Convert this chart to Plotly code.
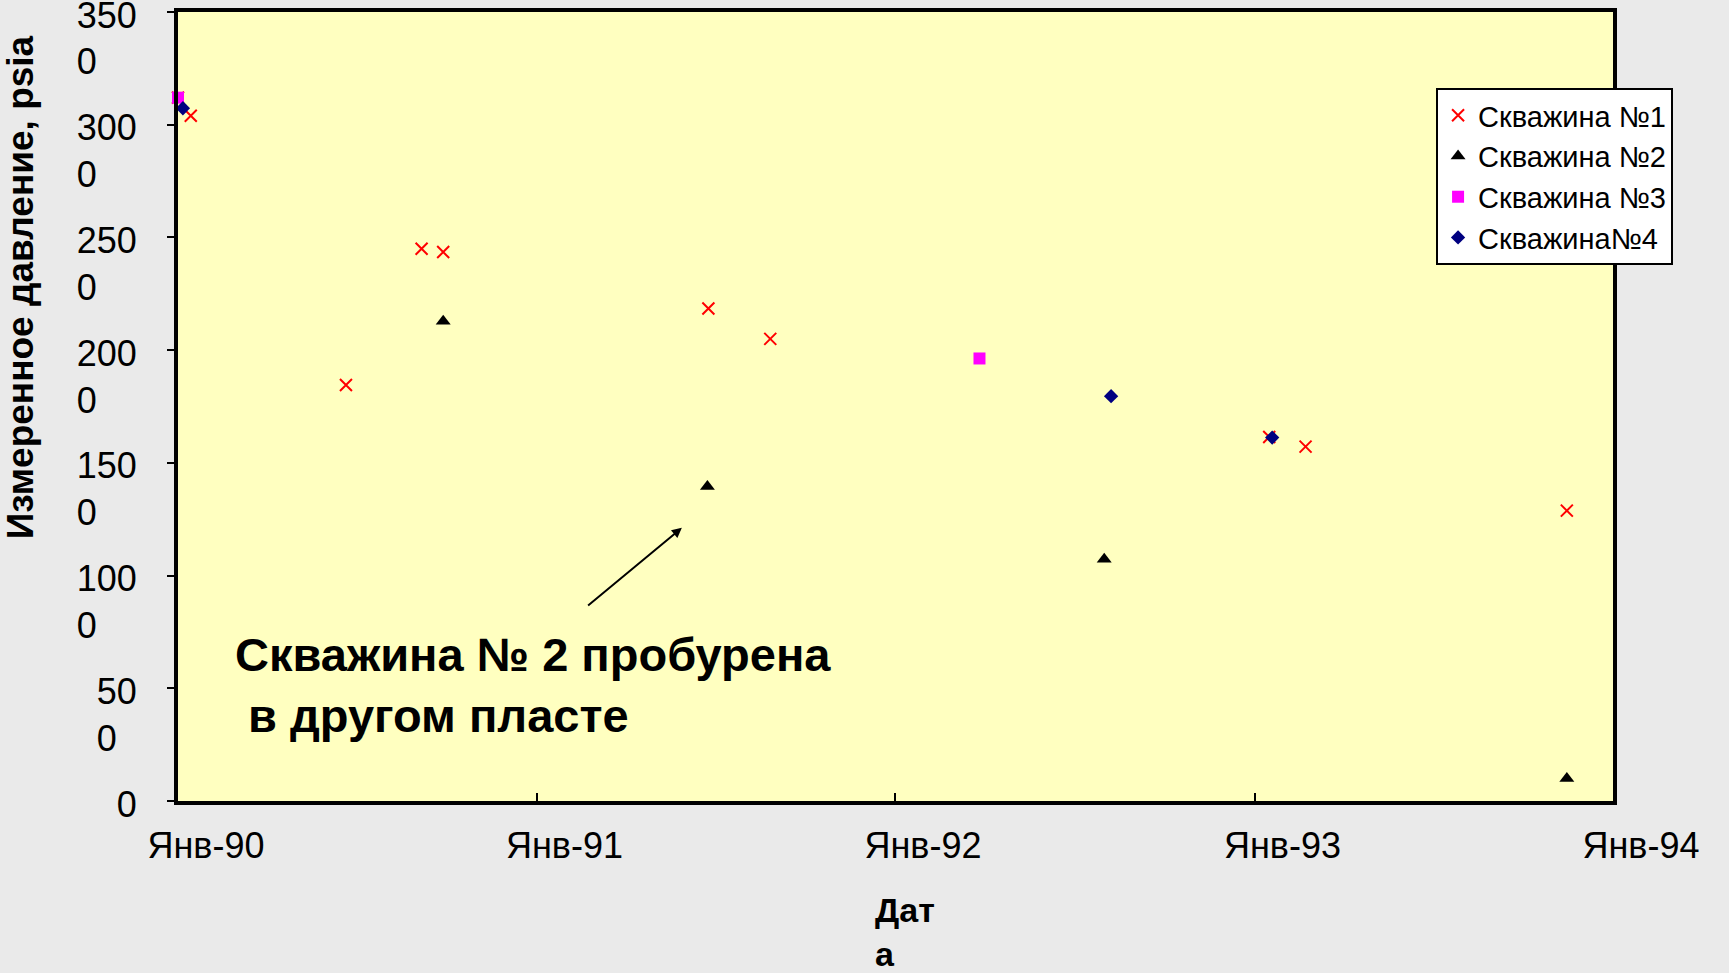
import plotly.graph_objects as go

# ---- data ----
well1_dates = ["1990-01-01", "1990-01-14", "1990-06-21", "1990-09-06", "1990-09-28",
               "1991-06-25", "1991-08-27", "1993-01-16", "1993-02-22", "1993-11-15"]
well1_psia = [3120, 3040, 1845, 2450, 2435, 2185, 2050, 1615, 1572, 1288]

well2_dates = ["1990-09-28", "1991-06-24", "1992-08-01", "1993-11-15"]
well2_psia = [2128, 1395, 1072, 100]

well3_dates = ["1990-01-01", "1992-03-27"]
well3_psia = [3120, 1963]

well4_dates = ["1990-01-06", "1992-08-08", "1993-01-19"]
well4_psia = [3073, 1796, 1612]

x_tickvals = ["1990-01-01", "1991-01-01", "1992-01-01", "1993-01-01", "1994-01-01"]
x_ticktext = ["Янв-90", "Янв-91", "Янв-92", "Янв-93", "Янв-94"]

y_tickvals = [0, 500, 1000, 1500, 2000, 2500, 3000, 3500]
NB = "\u00a0"
y_ticktext = ["0",
              NB + "<br>50<br>0" + NB * 2,
              NB + "<br>100<br>0" + NB * 4,
              NB + "<br>150<br>0" + NB * 4,
              NB + "<br>200<br>0" + NB * 4,
              NB + "<br>250<br>0" + NB * 4,
              NB + "<br>300<br>0" + NB * 4,
              NB + "<br>350<br>0" + NB * 4]

names = ["Скважина №1", "Скважина №2", "Скважина №3", "Скважина№4"]

FONT = "Liberation Sans, Arial, sans-serif"

fig = go.Figure()
fig.add_trace(go.Scatter(x=well1_dates, y=well1_psia, mode="markers", name=names[0],
                         marker=dict(symbol="x-thin", size=12, color="#FF0000",
                                     line=dict(color="#FF0000", width=2)),
                         cliponaxis=False))
fig.add_trace(go.Scatter(x=well2_dates, y=well2_psia, mode="markers", name=names[1],
                         marker=dict(symbol="triangle-up", size=13, color="#000000"),
                         cliponaxis=False))
fig.add_trace(go.Scatter(x=well3_dates, y=well3_psia, mode="markers", name=names[2],
                         marker=dict(symbol="square", size=12, color="#FF00FF"),
                         cliponaxis=False))
fig.add_trace(go.Scatter(x=well4_dates, y=well4_psia, mode="markers", name=names[3],
                         marker=dict(symbol="diamond", size=11, color="#000080"),
                         cliponaxis=False))

fig.update_layout(
    width=1729, height=973,
    margin=dict(l=178, r=116, t=12, b=172, autoexpand=False),
    paper_bgcolor="#EAEAEA",
    plot_bgcolor="#FFFFC0",
    font=dict(family=FONT, size=36, color="#000000"),
    showlegend=True,
    legend=dict(x=0.8767, y=0.9037, xanchor="left", yanchor="top",
                bgcolor="#FFFFFF", bordercolor="#000000", borderwidth=2,
                font=dict(family=FONT, size=29, color="#000000"),
                tracegroupgap=0, itemwidth=30),
)

fig.update_xaxes(type="date", range=["1990-01-01", "1994-01-01"],
                 tickvals=x_tickvals, ticktext=x_ticktext,
                 showgrid=False, zeroline=False,
                 showline=True, linecolor="#000000", linewidth=4, mirror=True,
                 ticks="inside", ticklen=8, tickwidth=2, tickcolor="#000000",
                 tickfont=dict(family=FONT, size=36, color="#000000"),
                 ticklabelshift=28, ticklabelstandoff=10,
                 ticklabeloverflow="allow")

fig.update_yaxes(range=[0, 3500], tickvals=y_tickvals, ticktext=y_ticktext,
                 showgrid=False, zeroline=False,
                 showline=True, linecolor="#000000", linewidth=4, mirror=True,
                 ticks="outside", ticklen=7, tickwidth=2, tickcolor="#000000",
                 tickfont=dict(family=FONT, size=36, color="#000000"),
                 ticklabelstandoff=23, ticklabelshift=3,
                 ticklabeloverflow="allow")

# Axis titles
fig.add_annotation(text="<b>Измеренное давление, psia</b>", textangle=-90,
                   xref="paper", yref="paper", x=-0.1101, y=0.651,
                   xanchor="center", yanchor="middle", showarrow=False,
                   font=dict(family=FONT, size=37, color="#000000"))
fig.add_annotation(text="<b>Дат<br>а</b>", align="left",
                   xref="paper", yref="paper", x=0.4843, y=-0.166,
                   xanchor="left", yanchor="middle", showarrow=False,
                   font=dict(family=FONT, size=34, color="#000000"))

# Arrow and note
fig.add_annotation(x="1991-05-29", y=1212, ax="1991-02-21", ay=862,
                   xref="x", yref="y", axref="x", ayref="y",
                   text="", showarrow=True, arrowhead=2, arrowsize=1,
                   arrowwidth=2, arrowcolor="#000000", standoff=0)
fig.add_annotation(text="<b>Скважина № 2 пробурена<br>" + NB + "в другом пласте</b>",
                   align="left", xref="paper", yref="paper", x=0.038, y=0.1464,
                   xanchor="left", yanchor="middle", showarrow=False,
                   font=dict(family=FONT, size=47, color="#000000"))

post = ("document.documentElement.style.margin='0';"
        "document.body.style.margin='0';document.body.style.padding='0';"
        "document.body.style.overflow='hidden';"
        "document.body.style.background='#EAEAEA';"
        "document.documentElement.style.background='#EAEAEA';")

fig.write_html("out.html", post_script=post, config={"displayModeBar": False})
